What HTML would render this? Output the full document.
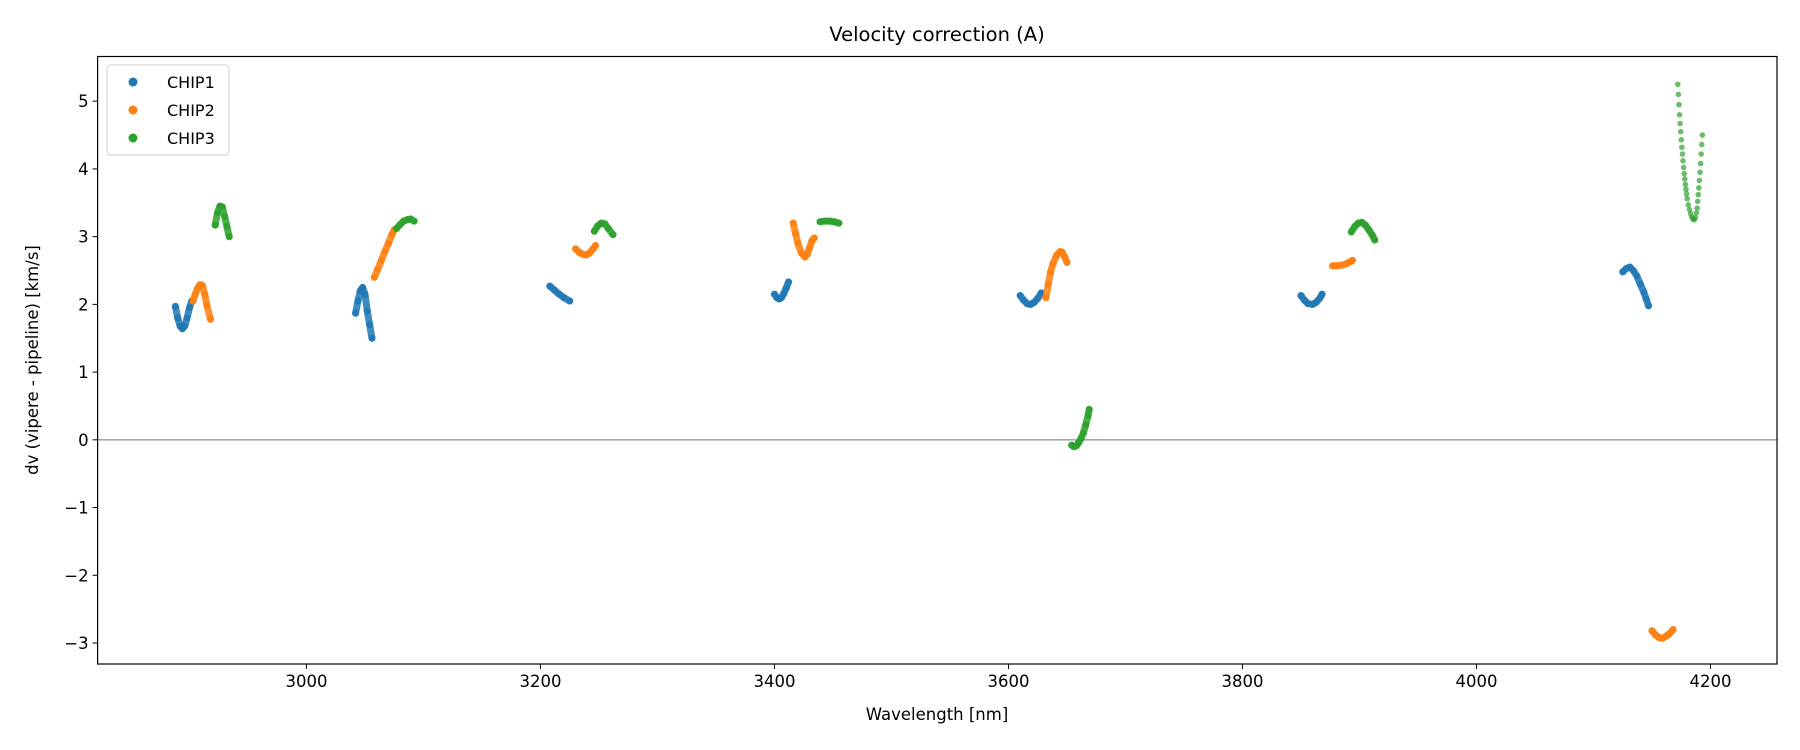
<!DOCTYPE html>
<html><head><meta charset="utf-8">
<style>
html,body{margin:0;padding:0;background:#fff;}
svg{display:block;font-family:"DejaVu Sans","Liberation Sans",sans-serif;}
</style></head>
<body>
<svg id="chart" width="1800" height="750" viewBox="0 0 1800 750" xmlns="http://www.w3.org/2000/svg">
<rect width="1800" height="750" fill="#fff"/>
<text x="937" y="41" font-size="19.5" text-anchor="middle" fill="#000">Velocity correction (A)</text>
<g id="grid"></g>
<g id="marks"></g>
<rect x="97.6" y="56.5" width="1679.4" height="607.5" fill="none" stroke="#000" stroke-width="1.2"/>
<g id="xticks"></g>
<g id="yticks"></g>
<text x="937" y="720" font-size="16.5" text-anchor="middle" fill="#000">Wavelength [nm]</text>
<text transform="translate(38,360) rotate(-90)" font-size="16.5" text-anchor="middle" fill="#000">dv (vipere - pipeline) [km/s]</text>
<g>
<rect x="107" y="65" width="122" height="90" rx="3" fill="#fff" stroke="#ccc" stroke-width="1"/>
<g><circle cx="133" cy="82" r="4.5" fill="#1f77b4"/><text x="167" y="88" font-size="16" fill="#000">CHIP1</text></g>
<g><circle cx="133" cy="110" r="4.5" fill="#ff7f0e"/><text x="167" y="116" font-size="16" fill="#000">CHIP2</text></g>
<g><circle cx="133" cy="138" r="4.5" fill="#2ca02c"/><text x="167" y="144" font-size="16" fill="#000">CHIP3</text></g>
</g>
</svg>
<script>
const xTicks = [3000, 3200, 3400, 3600, 3800, 4000, 4200];
const yTicks = [-3, -2, -1, 0, 1, 2, 3, 4, 5];
const seriesNames = ["CHIP1", "CHIP2", "CHIP3"];
const seriesColors = ["#1f77b4", "#ff7f0e", "#2ca02c"];

const chip1X = [
 [2888,2890,2892,2894,2896,2898,2900,2902],
 [3042,3044,3046,3048,3050,3052,3054,3056],
 [3208,3212,3216,3220,3225],
 [3400,3402,3404,3406,3408,3410,3412],
 [3610,3613,3616,3619,3622,3625,3628],
 [3850,3853,3856,3860,3863,3866,3868],
 [4125,4128,4131,4134,4137,4140,4143,4145,4147]
];
const chip1Y = [
 [1.97,1.80,1.68,1.64,1.68,1.80,1.95,2.05],
 [1.87,2.05,2.20,2.25,2.15,1.90,1.70,1.50],
 [2.27,2.21,2.15,2.10,2.05],
 [2.15,2.10,2.08,2.10,2.16,2.24,2.33],
 [2.13,2.06,2.01,2.00,2.03,2.09,2.17],
 [2.13,2.06,2.01,2.00,2.03,2.09,2.15],
 [2.48,2.53,2.55,2.50,2.42,2.30,2.18,2.08,1.98]
];
const chip2X = [
 [2903,2905,2907,2909,2911,2913,2915,2918],
 [3058,3061,3064,3067,3070,3073,3075],
 [3230,3233,3236,3239,3242,3245,3247],
 [3416,3418,3420,3423,3426,3428,3430,3432,3434],
 [3632,3634,3636,3638,3641,3644,3646,3648,3650],
 [3877,3881,3885,3889,3892,3894],
 [4150,4153,4156,4159,4162,4165,4168]
];
const chip2Y = [
 [2.05,2.15,2.24,2.29,2.28,2.15,1.98,1.78],
 [2.40,2.52,2.65,2.78,2.90,3.03,3.10],
 [2.82,2.77,2.74,2.73,2.76,2.82,2.87],
 [3.20,3.05,2.90,2.76,2.70,2.74,2.84,2.94,2.98],
 [2.10,2.30,2.48,2.60,2.72,2.78,2.77,2.70,2.62],
 [2.57,2.57,2.58,2.60,2.63,2.65],
 [-2.82,-2.88,-2.92,-2.93,-2.90,-2.86,-2.80]
];
const chip3X = [
 [2922,2924,2926,2928,2930,2932,2934],
 [3077,3080,3083,3086,3089,3092],
 [3246,3249,3252,3255,3258,3262],
 [3439,3443,3447,3451,3455],
 [3654,3656,3658,3660,3662,3664,3666,3668,3669],
 [3893,3896,3899,3902,3905,3908,3911,3913],
 [4172,4172.5,4173,4173.5,4174,4174.5,4175,4175.5,4176,4176.5,4177,4177.5,4178,4178.5,4179,4179.5,4180,4181,4182,4183,4184,4185,4186,4187,4188,4188.5,4189,4189.5,4190,4190.5,4191,4191.5,4192,4192.5,4193]
];
const chip3Y = [
 [3.17,3.35,3.45,3.44,3.30,3.15,3.00],
 [3.12,3.18,3.23,3.25,3.26,3.23],
 [3.08,3.16,3.20,3.19,3.12,3.03],
 [3.22,3.23,3.23,3.22,3.20],
 [-0.08,-0.10,-0.09,-0.04,0.02,0.10,0.22,0.36,0.45],
 [3.07,3.15,3.20,3.21,3.17,3.10,3.02,2.95],
 [5.25,5.10,4.95,4.80,4.67,4.55,4.43,4.32,4.22,4.12,4.02,3.93,3.85,3.77,3.70,3.63,3.56,3.47,3.40,3.34,3.29,3.26,3.25,3.28,3.35,3.42,3.52,3.62,3.72,3.83,3.95,4.08,4.22,4.36,4.50]
];

const X0 = 2821.5, X1 = 4256.8, PL = 97.6, PR = 1777;
const Y0 = -3.31, Y1 = 5.66, PB = 664, PT = 56.5;
function sx(v){ return PL + (v - X0) / (X1 - X0) * (PR - PL); }
function sy(v){ return PB - (v - Y0) / (Y1 - Y0) * (PB - PT); }
const NS = "http://www.w3.org/2000/svg";
function mk(tag, attrs, parent){
  const el = document.createElementNS(NS, tag);
  for (const k in attrs) el.setAttribute(k, attrs[k]);
  parent.appendChild(el);
  return el;
}
const grid = document.getElementById("grid");
const zl = mk("line", {x1: PL, x2: PR, y1: sy(0), y2: sy(0), stroke: "#707070", "stroke-width": 1}, grid);



const xg = document.getElementById("xticks");
xTicks.forEach(function(t){
  const g = mk("g", {}, xg);
  
  
  mk("line", {x1: sx(t), x2: sx(t), y1: PB, y2: PB + 5, stroke: "#000", "stroke-width": 1}, g);
  const tx = mk("text", {x: sx(t), y: PB + 23, "font-size": 16.5, "text-anchor": "middle", fill: "#000"}, g);
  tx.textContent = String(t);
});
const yg = document.getElementById("yticks");
yTicks.forEach(function(t){
  const g = mk("g", {}, yg);
  
  
  mk("line", {x1: PL - 5, x2: PL, y1: sy(t), y2: sy(t), stroke: "#000", "stroke-width": 1}, g);
  const tx = mk("text", {x: PL - 9, y: sy(t) + 6, "font-size": 16.5, "text-anchor": "end", fill: "#000"}, g);
  tx.textContent = t < 0 ? "\u2212" + Math.abs(t) : String(t);
});

const marks = document.getElementById("marks");
const allX = [chip1X, chip2X, chip3X];
const allY = [chip1Y, chip2Y, chip3Y];
allX.forEach(function(segsX, si){
  const segsY = allY[si];
  segsX.forEach(function(xs, k){
    const ys = segsY[k];
    const g = mk("g", {}, marks);
    
    
    const sparse = xs.length > 20;
    if (!sparse) {
      const pts = xs.map(function(x, i){ return sx(x).toFixed(1) + "," + sy(ys[i]).toFixed(1); }).join(" ");
      mk("polyline", {points: pts, fill: "none", stroke: seriesColors[si], "stroke-width": 7, "stroke-linecap": "round", "stroke-linejoin": "round", opacity: 0.85}, g);
    }
    xs.forEach(function(x, i){
      const c = mk("circle", {cx: sx(x), cy: sy(ys[i]), r: sparse ? 2.8 : 3.5, fill: seriesColors[si], opacity: sparse ? 0.7 : 0.85}, g);
      
      
    });
  });
});
</script>
</body></html>
